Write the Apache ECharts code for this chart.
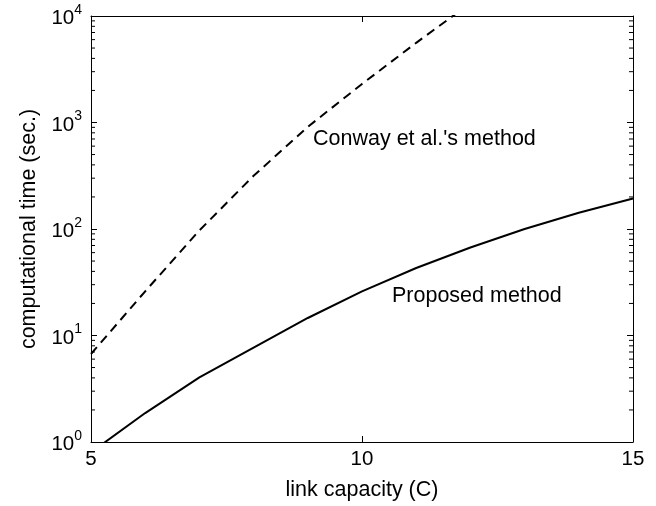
<!DOCTYPE html>
<html>
<head>
<meta charset="utf-8">
<script src="https://cdn.jsdelivr.net/npm/echarts@6/dist/echarts.min.js"></script>
<style>html,body{margin:0;padding:0;background:#fff}#c{width:656px;height:506px}</style>
</head>
<body>
<div id="c"></div>
<script>
// Link capacity C
const capacity = [5, 6, 7, 8, 9, 10, 11, 12, 13, 14, 15];
// Proposed method computational time (sec.)
const proposed = [0.8, 1.87, 4.05, 7.7, 14.6, 26, 43, 67, 100, 142, 193];
// Conway et al.'s method computational time (sec.)
const conwayX = [5, 6, 7, 8, 9, 10, 11, 12];
const conway = [6.7, 26, 97, 316, 910, 2300, 5600, 13200];
// Axis ticks
const xTicks = [5, 10, 15];
const yDecades = [1, 10, 100, 1000, 10000];
const yMinorTicks = [];
for (let d = 0; d < 4; d++) for (let m = 2; m <= 9; m++) yMinorTicks.push(m * Math.pow(10, d));
const labelConway = "Conway et al.'s method";
const labelProposed = 'Proposed method';

const FONT = '"Liberation Sans", Arial, Helvetica, sans-serif';
const chart = echarts.init(document.getElementById('c'), null, {renderer: 'canvas'});
const axisLineStyle = {color: '#000', width: 1};
const supFmt = v => '{b|10}{s|' + Math.round(Math.log10(v)) + '}';
chart.setOption({
  animation: false,
  backgroundColor: '#fff',
  textStyle: {fontFamily: FONT},
  grid: {left: 91, top: 16, right: 23, bottom: 63, show: false},
  xAxis: [{
    type: 'value', min: 5, max: 15, interval: 5,
    name: 'link capacity (C)', nameLocation: 'middle', nameGap: 37,
    nameTextStyle: {fontSize: 21.5, color: '#000', fontFamily: FONT},
    axisLine: {show: true, onZero: false, lineStyle: axisLineStyle},
    axisTick: {show: true, inside: true, length: 6, lineStyle: axisLineStyle},
    axisLabel: {fontSize: 20.5, color: '#000', margin: 7, fontFamily: FONT},
    splitLine: {show: false}
  }, {
    type: 'value', min: 5, max: 15, interval: 5, position: 'top',
    axisLine: {show: true, onZero: false, lineStyle: axisLineStyle},
    axisTick: {show: true, inside: true, length: 6, lineStyle: axisLineStyle},
    axisLabel: {show: false}, splitLine: {show: false}
  }],
  yAxis: [{
    type: 'log', logBase: 10, min: 1, max: 10000,
    name: 'computational time (sec.)', nameLocation: 'middle', nameGap: 50,
    nameTextStyle: {fontSize: 21.5, color: '#000', fontFamily: FONT},
    axisLine: {show: true, onZero: false, lineStyle: axisLineStyle},
    axisTick: {show: true, inside: true, length: 6, lineStyle: axisLineStyle},
    axisLabel: {
      margin: 9, formatter: supFmt,
      rich: {
        b: {fontSize: 20.5, color: '#000', fontFamily: FONT, lineHeight: 26, verticalAlign: 'bottom'},
        s: {fontSize: 14, color: '#000', fontFamily: FONT, lineHeight: 14, verticalAlign: 'top'}
      }
    },
    splitLine: {show: false}
  }, {
    type: 'log', logBase: 10, min: 1, max: 10000, position: 'right',
    axisLine: {show: true, onZero: false, lineStyle: axisLineStyle},
    axisTick: {show: true, inside: true, length: 6, lineStyle: axisLineStyle},
    axisLabel: {show: false}, splitLine: {show: false}
  }],
  series: [{
    name: 'Proposed method', type: 'line',
    data: capacity.map((c, i) => [c, proposed[i]]),
    showSymbol: false, symbol: 'none', clip: true,
    lineStyle: {color: '#000', width: 2, type: 'solid'}
  }, {
    name: labelConway, type: 'line',
    data: conwayX.map((c, i) => [c, conway[i]]),
    showSymbol: false, symbol: 'none', clip: true,
    lineStyle: {color: '#000', width: 2, type: [9, 6]}
  }, {
    name: 'minor ticks', type: 'custom', silent: true, clip: false,
    data: yMinorTicks.map(v => [v]),
    renderItem: function (params, api) {
      const v = api.value(0);
      const l = api.coord([5, v]);
      const r = api.coord([15, v]);
      const st = {stroke: '#000', lineWidth: 1};
      return {type: 'group', children: [
        {type: 'line', shape: {x1: l[0], y1: l[1], x2: l[0] + 4, y2: l[1]}, style: st},
        {type: 'line', shape: {x1: r[0], y1: r[1], x2: r[0] - 4, y2: r[1]}, style: st}
      ]};
    }
  }],
  graphic: [
    {type: 'text', left: 313, top: 128, style: {text: labelConway, font: '21.5px ' + FONT, fill: '#000'}},
    {type: 'text', left: 392, top: 285, style: {text: labelProposed, font: '21.5px ' + FONT, fill: '#000'}}
  ]
});
</script>
</body>
</html>
